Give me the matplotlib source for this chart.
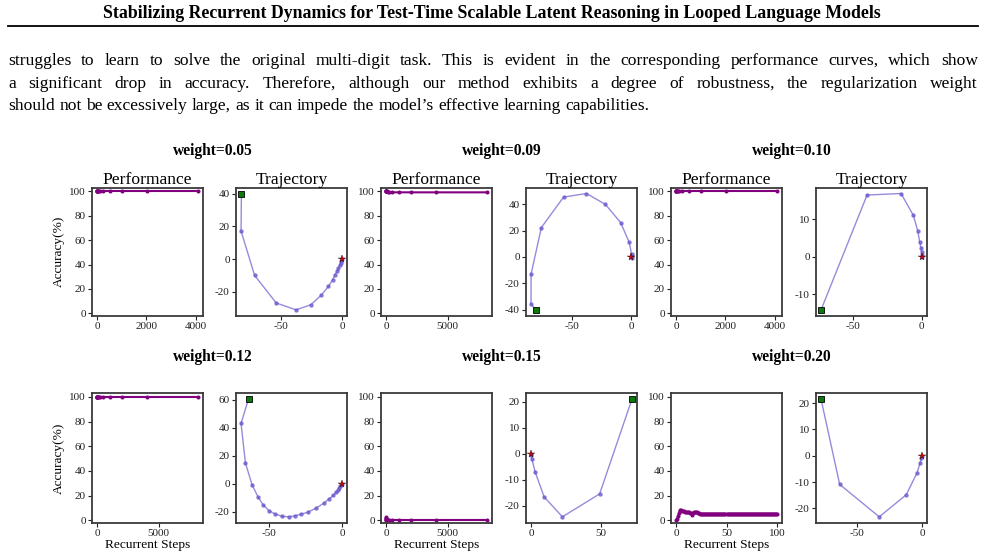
import matplotlib
matplotlib.use("Agg")
import matplotlib.pyplot as plt
from matplotlib.ticker import MultipleLocator

plt.rcParams['font.family'] = ['Liberation Serif', 'DejaVu Serif']
plt.rcParams['axes.unicode_minus'] = False

# ---- data ----
weights = ['0.05', '0.09', '0.10', '0.12', '0.15', '0.20']

steps_4k = [1, 2, 4, 8, 16, 32, 64, 128, 256, 512, 1024, 2048, 4096]
steps_8k = [1, 2, 4, 8, 16, 32, 64, 128, 256, 512, 1024, 2048, 4096, 8192]
steps_100 = list(range(0, 101))

acc_005 = [100, 100, 100, 100, 100, 100, 100, 100, 100, 100, 100, 100, 100]
acc_009 = [100, 100, 100, 100, 100, 100, 100, 99.8, 99.5, 99.2, 99.2, 99.2, 99.2, 99.2]
acc_010 = [100, 100, 100, 100, 100, 100, 100, 100, 100, 100, 100, 100, 100]
acc_012 = [100, 100, 100, 100, 100, 100, 100, 100, 100, 100, 100, 100, 100, 100]
acc_015 = [2.4, 1.8, 1.2, 0.8, 0.5, 0.4, 0.3, 0.3, 0.2, 0.2, 0.2, 0.2, 0.2, 0.2]
acc_020 = [0.0, 1.2, 3.3, 6.0, 8.4, 8.0, 7.6, 7.5, 7.3, 7.0, 6.6, 6.5, 6.3, 6.3, 6.0,
           5.5, 4.2, 5.5, 6.3, 6.3, 6.5, 6.3, 6.0, 5.5, 5.3, 5.2, 5.2, 5.2, 5.2, 5.2,
           5.2, 5.2, 5.2, 5.2, 5.2, 5.2, 5.2, 5.2, 5.2, 5.2, 5.2, 5.2, 5.2, 5.2, 5.2,
           5.2, 5.2, 5.2, 5.2, 5.2, 5.2, 5.2, 5.2, 5.2, 5.2, 5.2, 5.2, 5.2, 5.2, 5.2,
           5.2, 5.2, 5.2, 5.2, 5.2, 5.2, 5.2, 5.2, 5.2, 5.2, 5.2, 5.2, 5.2, 5.2, 5.2,
           5.2, 5.2, 5.2, 5.2, 5.2, 5.2, 5.2, 5.2, 5.2, 5.2, 5.2, 5.2, 5.2, 5.2, 5.2,
           5.2, 5.2, 5.2, 5.2, 5.2, 5.2, 5.2, 5.2, 5.2, 5.2, 5.2]

traj_x_005 = [-82.3, -82.6, -71.5, -53.8, -37.5, -25.3, -16.8, -11.1, -7.6, -5.7, -4.1, -3.0, -1.9, -1.1, -0.5, 0.0]
traj_y_005 = [40.0, 17.2, -9.9, -26.7, -30.9, -27.7, -21.8, -16.6, -12.5, -9.5, -7.5, -5.5, -3.8, -2.4, -1.2, 0.0]

traj_x_009 = [-80.4, -84.4, -84.4, -75.7, -57.0, -37.7, -21.8, -8.9, -1.7, 0.3, 0.6, 0.3, 0.0]
traj_y_009 = [-40.0, -35.8, -13.0, 22.3, 45.3, 48.0, 39.8, 26.0, 11.0, 2.0, -1.0, 0.8, 0.0]

traj_x_010 = [-73.7, -40.0, -15.1, -6.1, -2.9, -1.5, -0.5, 0.0, 0.2, 0.0]
traj_y_010 = [-14.1, 16.4, 16.8, 11.0, 6.9, 4.05, 2.3, 1.15, 0.5, 0.0]

traj_x_012 = [-63.9, -69.0, -66.0, -61.4, -57.3, -53.9, -50.0, -45.9, -41.1, -36.3, -32.2, -27.9,
              -23.3, -17.8, -12.6, -8.7, -5.9, -3.9, -2.7, -1.8, -1.1, -0.5, 0.0]
traj_y_012 = [60.5, 43.2, 14.9, -1.0, -9.6, -15.1, -19.2, -21.6, -23.3, -23.7, -23.0, -21.8,
              -20.4, -17.5, -14.1, -10.8, -8.4, -6.0, -4.3, -2.9, -1.7, -0.7, 0.0]

traj_x_015 = [72.1, 49.0, 22.4, 9.3, 2.9, 0.5, 0.0, 0.0]
traj_y_015 = [20.9, -15.5, -24.3, -16.6, -7.0, -1.9, -0.6, 0.0]

traj_x_020 = [-77.3, -63.0, -32.7, -12.0, -3.8, -1.3, -0.5, 0.0]
traj_y_020 = [21.5, -10.9, -23.2, -14.8, -6.5, -2.6, -0.9, 0.0]

perf_steps = [steps_4k, steps_8k, steps_4k, steps_8k, steps_8k, steps_100]
perf_acc = [acc_005, acc_009, acc_010, acc_012, acc_015, acc_020]
perf_xstep = [2000, 5000, 2000, 5000, 5000, 50]
traj_x = [traj_x_005, traj_x_009, traj_x_010, traj_x_012, traj_x_015, traj_x_020]
traj_y = [traj_y_005, traj_y_009, traj_y_010, traj_y_012, traj_y_015, traj_y_020]
traj_ystep = [20, 20, 10, 20, 10, 10]

header = "Stabilizing Recurrent Dynamics for Test-Time Scalable Latent Reasoning in Looped Language Models"
paragraph = [
    "struggles to learn to solve the original multi-digit task. This is evident in the corresponding performance curves, which show",
    "a significant drop in accuracy. Therefore, although our method exhibits a degree of robustness, the regularization weight",
    "should not be excessively large, as it can impede the model\u2019s effective learning capabilities.",
]

# ---- layout (pixels) ----
W, H = 985, 555
fig = plt.figure(figsize=(W / 100, H / 100), dpi=100)
fig.patch.set_facecolor('white')


def fx(px):
    return px / W


def fy(py):
    return 1 - py / H


# page header
fig.text(fx(492), fy(14), header, ha='center', va='center', fontsize=12.8, fontweight='bold')
fig.add_artist(plt.Line2D([fx(8), fx(978)], [fy(25.5), fy(25.5)], color='black', lw=1.3))

# justified paragraph
renderer = fig.canvas.get_renderer()
line_y = [61, 84, 106]
para_size = 12.6
for i, line in enumerate(paragraph):
    words = line.split(' ')
    texts = [fig.text(0, fy(line_y[i]), w, ha='left', va='center', fontsize=para_size) for w in words]
    widths = [t.get_window_extent(renderer).width for t in texts]
    if i < len(paragraph) - 1:
        gap = (978 - 8 - sum(widths)) / (len(words) - 1)
    else:
        sp = fig.text(0, 0, 'a a', fontsize=para_size)
        sp2 = fig.text(0, 0, 'aa', fontsize=para_size)
        gap = sp.get_window_extent(renderer).width - sp2.get_window_extent(renderer).width
        sp.remove()
        sp2.remove()
    x = 8
    for t, w in zip(texts, widths):
        t.set_x(fx(x))
        x += w + gap

perf_left = [92, 381, 671]
traj_left = [236, 526, 816]
ax_w = 111
rows = [(187.7, 315.7), (393.3, 522.7)]
title_y = [151, 357]
spine_col = '#3a3a3a'


def style(ax):
    for s in ax.spines.values():
        s.set_color(spine_col)
        s.set_linewidth(1.3)
    ax.tick_params(direction='out', length=3, width=0.8, colors='#222222', labelsize=8, pad=1.5)


for k in range(6):
    r, c = divmod(k, 3)
    top, bot = rows[r]
    hgt = bot - top

    axp = fig.add_axes([fx(perf_left[c]), fy(bot), ax_w / W, hgt / H])
    axp.plot(perf_steps[k], perf_acc[k], color='#800080', lw=1.5, marker='o', ms=1.9)
    axp.set_ylim(-2, 103)
    axp.set_yticks([0, 20, 40, 60, 80, 100])
    axp.xaxis.set_major_locator(MultipleLocator(perf_xstep[k]))
    style(axp)

    axt = fig.add_axes([fx(traj_left[c]), fy(bot), ax_w / W, hgt / H])
    axt.plot(traj_x[k], traj_y[k], color='#6a5acd', alpha=0.7, lw=1.0, marker='o', ms=2.2)
    axt.plot(traj_x[k][-1], traj_y[k][-1], marker='*', color='#e00000', mec='#300000', mew=0.3, ms=5.5, ls='none')
    axt.plot(traj_x[k][0], traj_y[k][0], marker='s', color='#0a7a0a', mec='black', mew=0.6, ms=5, ls='none')
    axt.xaxis.set_major_locator(MultipleLocator(50))
    axt.yaxis.set_major_locator(MultipleLocator(traj_ystep[k]))
    style(axt)

    if r == 0:
        axp.set_title('Performance', fontsize=12.6, pad=3)
        axt.set_title('Trajectory', fontsize=12.6, pad=3)
    else:
        axp.set_xlabel('Recurrent Steps', fontsize=9.6, labelpad=0.5)
    if c == 0:
        axp.set_ylabel('Accuracy(%)', fontsize=9.6, labelpad=3)

    fig.text(fx(perf_left[c] + 121), fy(title_y[r]), 'weight=' + weights[k],
             ha='center', va='center', fontsize=11.2, fontweight='bold')

fig.savefig('out.png', dpi=100, facecolor='white')
